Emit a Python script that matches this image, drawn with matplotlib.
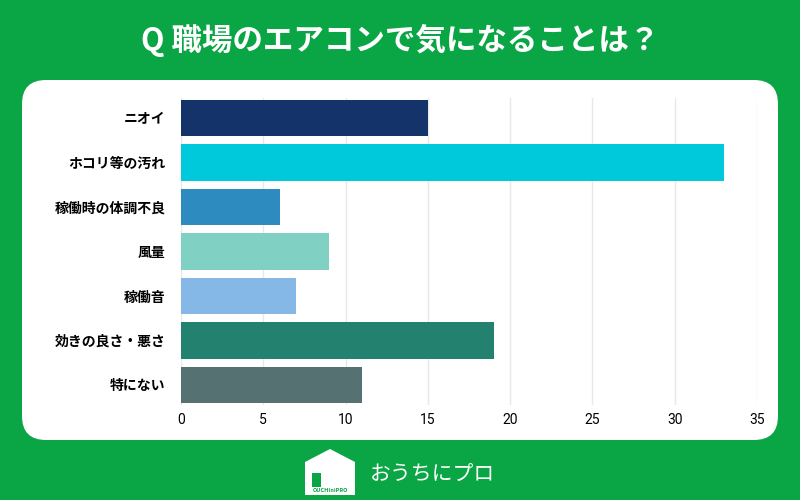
import matplotlib.pyplot as plt
from matplotlib.patches import FancyBboxPatch, Polygon, Rectangle

plt.rcParams['font.family'] = ['Noto Sans CJK JP', 'DejaVu Sans']

categories = ['ニオイ', 'ホコリ等の汚れ', '稼働時の体調不良', '風量', '稼働音', '効きの良さ・悪さ', '特にない']
values = [15, 33, 6, 9, 7, 19, 11]
colors = ['#14336a', '#00c9db', '#2e8bc0', '#80d1c4', '#85b8e6', '#238170', '#557171']
ticks = [0, 5, 10, 15, 20, 25, 30, 35]

green = '#0aa544'
W, H = 800, 500

fig = plt.figure(figsize=(8, 5), dpi=100)
fig.patch.set_facecolor(green)

# white rounded panel (behind the axes)
panel = FancyBboxPatch((22 / W, 60 / H), 756 / W, 360 / H,
                       boxstyle='round,pad=0,rounding_size=0.03',
                       transform=fig.transFigure, facecolor='white',
                       edgecolor='none', mutation_aspect=W / H, zorder=-1)
fig.patches.append(panel)

fig.text(0.5, 1 - 40 / H, 'Q 職場のエアコンで気になることは？', color='white',
         fontsize=22, fontweight='bold', ha='center', va='center')

ax = fig.add_axes([181 / W, 1 - 405 / H, (757 - 181) / W, (405 - 98) / H])
ax.barh(range(len(categories)), values, height=0.83, color=colors, zorder=3)
ax.set_ylim(6.45, -0.45)
ax.set_xlim(0, 35)
ax.set_xticks(ticks)
ax.set_xticklabels([str(t) for t in ticks], fontsize=10, family=['Roboto', 'DejaVu Sans'])
ax.set_yticks(range(len(categories)))
ax.set_yticklabels(categories, fontsize=10, fontweight='bold')
ax.tick_params(axis='x', length=0, pad=6)
ax.tick_params(axis='y', length=0, pad=11)
ax.grid(axis='x', color='#e8e8e8', linewidth=1, zorder=0)
for s in ax.spines.values():
    s.set_visible(False)
ax.set_facecolor('none')

# logo
house = Polygon([(305 / W, 1 - 495 / H), (305 / W, 1 - 462 / H), (330 / W, 1 - 449 / H),
                 (355 / W, 1 - 462 / H), (355 / W, 1 - 495 / H)],
                closed=True, transform=fig.transFigure, facecolor='white', edgecolor='none')
fig.patches.append(house)
door = Rectangle((312 / W, 1 - 487 / H), 9 / W, 14 / H, transform=fig.transFigure,
                 facecolor=green, edgecolor='none')
fig.patches.append(door)
fig.text(330 / W, 1 - 491 / H, 'OUCHIniPRO', color=green, fontsize=4,
         fontweight='bold', ha='center', va='center')
fig.text(370 / W, 1 - 474 / H, 'おうちにプロ', color='white', fontsize=15,
         ha='left', va='center')

fig.savefig('out.png', dpi=100, facecolor=green)
